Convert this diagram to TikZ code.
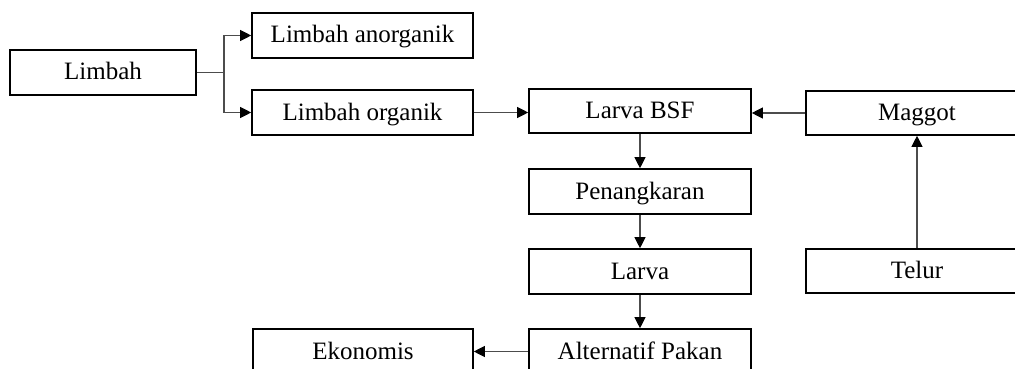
\documentclass[tikz,border=0pt]{standalone}
\usepackage{fontspec}
\setmainfont{Liberation Serif}
\usetikzlibrary{arrows.meta}
\begin{document}
\begin{tikzpicture}[x=1pt,y=-1pt,
  box/.style={draw=black,line width=1.6pt,inner sep=0pt,minimum height=45pt,text height=18pt,text depth=3pt,font=\fontsize{25}{28}\selectfont,anchor=center},
  conn/.style={draw=black!70,line width=1.1pt,-{Triangle[length=11pt,width=11pt,color=black,fill=black]}},
  plain/.style={draw=black!70,line width=1.1pt}]
\useasboundingbox (0,0) rectangle (1015,369);
\clip (0,0) rectangle (1015,369);
\node[box,minimum width=186pt] (limbah) at (103,72.5) {Limbah};
\node[box,minimum width=221pt] (anorg) at (362.5,35.5) {Limbah anorganik};
\node[box,minimum width=221pt] (org) at (362.5,112.5) {Limbah organik};
\node[box,minimum width=222pt,minimum height=44pt] (bsf) at (640,111) {Larva BSF};
\node[box,minimum width=222pt,minimum height=44pt] (maggot) at (917,113) {Maggot};
\node[box,minimum width=222pt] (peng) at (640,191.5) {Penangkaran};
\node[box,minimum width=222pt] (larva) at (640,271.5) {Larva};
\node[box,minimum width=222pt] (alt) at (640,351.5) {Alternatif Pakan};
\node[box,minimum width=220pt] (eko) at (363,351.5) {Ekonomis};
\node[box,minimum width=222pt,minimum height=44pt] (telur) at (917,271) {Telur};
\coordinate (br) at (224,72.5);
\draw[plain] (limbah.east) -- (br);
\draw[conn] (br) |- (anorg.west);
\draw[conn] (br) |- (org.west);
\draw[conn] (org.east) -- (org.east -| bsf.west);
\draw[conn] (maggot.west) -- (maggot.west -| bsf.east);
\draw[conn] (bsf.south) -- (peng.north);
\draw[conn] (peng.south) -- (larva.north);
\draw[conn] (larva.south) -- (alt.north);
\draw[conn] (alt.west) -- (eko.east);
\draw[conn] (telur.north) -- (maggot.south);
\end{tikzpicture}
\end{document}
